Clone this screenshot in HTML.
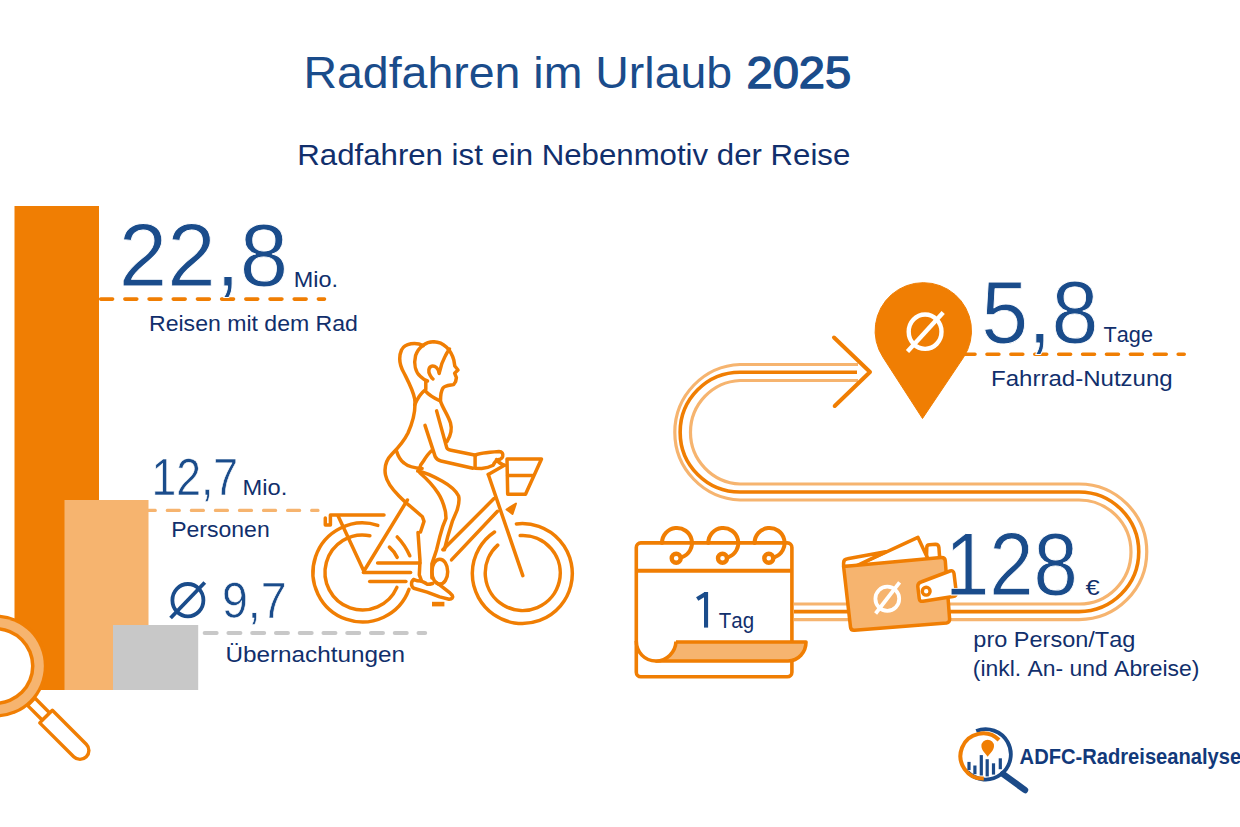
<!DOCTYPE html>
<html><head><meta charset="utf-8"><title>Radfahren im Urlaub 2025</title>
<style>
html,body{margin:0;padding:0;background:#fff;}
body{width:1240px;height:827px;overflow:hidden;position:relative;}
svg{position:absolute;left:0;top:0;display:block;}
text{font-family:"Liberation Sans",sans-serif;font-kerning:none;}
</style></head><body>
<svg width="1240" height="827" viewBox="0 0 1240 827">
<line x1="76.5" y1="299.1" x2="324.5" y2="299.1" stroke="#f07e03" stroke-width="3.6" stroke-linecap="round" stroke-dasharray="11.9 12.29"/>
<line x1="143.3" y1="510.4" x2="317.9" y2="510.4" stroke="#f6b46f" stroke-width="3.4" stroke-linecap="round" stroke-dasharray="11.9 12.16"/>
<line x1="180.9" y1="632.9" x2="425.2" y2="632.9" stroke="#c8c8c8" stroke-width="4.0" stroke-linecap="round" stroke-dasharray="12.0 11.76"/>
<line x1="963.1" y1="354.2" x2="1184.2" y2="354.2" stroke="#f07e03" stroke-width="3.6" stroke-linecap="round" stroke-dasharray="11.9 12.0"/>
<rect x="14.5" y="206" width="84.5" height="484" fill="#f07e03"/>
<rect x="64.5" y="500" width="84" height="190" fill="#f6b46f"/>
<rect x="113" y="625" width="85.2" height="65" fill="#c8c8c8"/>
<circle cx="-4.5" cy="666" r="51.5" fill="#f07e03"/>
<circle cx="-4.5" cy="666" r="48.3" fill="#f6b46f"/>
<circle cx="-4.5" cy="666" r="39" fill="#f07e03"/>
<circle cx="-4.5" cy="666" r="35.5" fill="#fff"/>
<g transform="translate(-4.5,666) rotate(45)" fill="#fff" stroke="#f07e03" stroke-width="3.4" stroke-linejoin="round"><rect x="50.5" y="-5.2" width="21" height="10.4"/><path d="M71.5,-8.9 H119.5 A8.9,8.9 0 0 1 119.5,8.9 H71.5 Z"/></g>
<path d="M858,364.5 H740 A67.8,67.8 0 0 0 740,500 H1079 A52,52 0 0 1 1079,604 H794" fill="none" stroke="#f6b46f" stroke-width="3.2"/>
<path d="M857,372.3 H740 A59.8,59.8 0 0 0 740,492 H1079 A59.8,59.8 0 0 1 1079,611.6 H794" fill="none" stroke="#f07e03" stroke-width="3.6"/>
<path d="M858,380.5 H740 A51.8,51.8 0 0 0 740,484 H1079 A67.8,67.8 0 0 1 1079,619.6 H794" fill="none" stroke="#f6b46f" stroke-width="3.2"/>
<polyline points="834,337.5 870,372 834.7,406" fill="none" stroke="#f07e03" stroke-width="4" stroke-linecap="round" stroke-linejoin="round"/>
<path d="M922.5,418.5 L883.0,357.3 A48.2,48.2 0 1 1 963.6,357.3 Z" fill="#f07e03" stroke="#f07e03" stroke-width="1" stroke-linejoin="round"/>
<ellipse cx="925.1" cy="331.7" rx="16.4" ry="17.2" fill="none" stroke="#fff" stroke-width="4.4"/>
<line x1="907.5" y1="351.5" x2="943.2" y2="312.5" stroke="#fff" stroke-width="4.4" stroke-linecap="butt"/>
<ellipse cx="187.9" cy="600.2" rx="15.5" ry="16.2" fill="none" stroke="#1a4c8b" stroke-width="3.8"/>
<line x1="170.6" y1="618.0" x2="204.8" y2="582.5" stroke="#1a4c8b" stroke-width="3.8" stroke-linecap="butt"/>
<rect x="636.3" y="542.9" width="155.6" height="133.8" rx="4.5" fill="#fff" stroke="#f07e03" stroke-width="3.6"/>
<line x1="636.3" y1="570.8" x2="791.9" y2="570.8" stroke="#f07e03" stroke-width="4"/>
<path d="M676,642 H806 C806,652 798.5,661 788,661 H655.5" fill="#f6b46f" stroke="#f07e03" stroke-width="3.6" stroke-linejoin="round"/>
<path d="M636.3,641 C636.3,652 644.5,661 656,661 C667,661 675.5,652 676,641.5" fill="#fff" stroke="#f07e03" stroke-width="3.6"/>
<path d="M662,542.9 A15,15 0 1 1 682.1,557.1" fill="none" stroke="#f07e03" stroke-width="4" stroke-linecap="round"/>
<circle cx="676.2" cy="558.2" r="4.5" fill="#fff" stroke="#f07e03" stroke-width="4.4"/>
<path d="M708.3,542.9 A15,15 0 1 1 728.4,557.1" fill="none" stroke="#f07e03" stroke-width="4" stroke-linecap="round"/>
<circle cx="722.5" cy="558.2" r="4.5" fill="#fff" stroke="#f07e03" stroke-width="4.4"/>
<path d="M754.6,542.9 A15,15 0 1 1 774.7,557.1" fill="none" stroke="#f07e03" stroke-width="4" stroke-linecap="round"/>
<circle cx="768.8000000000001" cy="558.2" r="4.5" fill="#fff" stroke="#f07e03" stroke-width="4.4"/>
<line x1="706.05" y1="592" x2="706.05" y2="627.6" stroke="#1a4c8b" stroke-width="4.1"/>
<line x1="705.5" y1="594" x2="697.2" y2="599" stroke="#1a4c8b" stroke-width="4.3" stroke-linecap="butt"/>
<g stroke="#f07e03" stroke-width="3.5" stroke-linejoin="round">
<path d="M926.5,557 L926.8,547 Q927,545 929.5,544.8 L935.5,544.3 Q938.6,544.3 938.9,547.5 L939.6,557" fill="#fff"/>
<path d="M855,566.5 L917.9,537.3 L928,559" fill="#fff"/>
<path d="M843.6,566.5 L843.6,563 Q843.6,559.3 847.5,558.8 L885.6,551.8 L855,566.5 Z" fill="#fff"/>
<path d="M843.6,566.5 L941,557.6 Q945,557.3 945.3,561 L949.6,619 Q949.8,622.5 946.5,623 L854.5,630.3 Q850.8,630.6 850.5,627 Z" fill="#f6b46f"/>
<path d="M921,582 L950,571 Q953.5,570 954,573.5 L956.3,592.5 Q956.5,596 953,596.4 L923,601.3 Q919.5,601.8 919.2,598.3 L917.8,586.5 Q917.6,583.2 921,582 Z" fill="#fff"/>
<circle cx="926.2" cy="591.2" r="3.9" fill="#fff" stroke-width="3.4"/>
</g>
<ellipse cx="887.3" cy="598.8" rx="11.9" ry="12.1" fill="none" stroke="#fff" stroke-width="3.8"/>
<line x1="875.6" y1="613.5" x2="899.6" y2="582.3" stroke="#fff" stroke-width="3.8" stroke-linecap="butt"/>
<g fill="none" stroke="#f07e03" stroke-width="3.5" stroke-linecap="round" stroke-linejoin="round">
<path d="M377.8,525.4 A49.5,49.5 0 1 0 409.0,589.4"/>
<path d="M369.9,535.7 A37.5,37.5 0 1 0 396.9,587.4"/>
<path d="M516.4,523.9 A50,50 0 1 1 494.5,532.0"/>
<path d="M520.2,535.6 A37.5,37.5 0 1 1 497.7,545.1"/>
<path d="M384,515 H330.4 V525 H325.3 V518"/>
<path d="M338,515.7 L364,571.5"/>
<path d="M407.4,500 L364,571"/>
<path d="M377.6,563 H420"/>
<path d="M363.4,572.6 H410.6"/>
<path d="M369.7,581.6 H405.9"/>
<path d="M389.4,547.1 Q394,551 397.2,557.4"/>
<path d="M397.2,536.9 Q405,545 409.8,555.8"/>
<path d="M442.9,549.7 L494,498.6"/>
<path d="M451.5,559.9 L497.5,511.3"/>
<path d="M488.3,474.5 L522.8,575.6"/>
<path d="M488.3,474.5 L504.4,465.3"/>
<path d="M507,459 H541.5 L525.5,494.2 H507.7 Z"/>
<path d="M507.7,475.5 H532.5"/>
<path d="M423.2,345.6 C416,342 405,343 401.5,350 C398.5,357 400,366 404,373 C408,381 413,390 414.7,399 C416,410 412,424 408,433 C404,441 399,447 392,454 C386,460 384,467 385.5,475 C387,483 393,490 399,496 C403,500 407,504 410,506 L422.4,516.7 L424,521.4 L420.5,532"/>
<path d="M433.8,341.7 C426,341.5 418.5,347 415.6,355.5 C413.5,364 415.5,372 420.5,376.5 C423,379 426,380.6 427.5,381"/>
<path d="M433.8,341.7 C444,342 451,350 453.8,360 L454.8,366 L458,370 L454.6,373.2 L456.4,377.6 L455.6,381.6 L453.6,384.6 C449,385.4 445,385.4 443,388 C441,391 440.5,396 440.5,401 C442,407 448,415 450.5,423 C452.5,430 450.5,436 447,441.5"/>
<path d="M439.2,373.4 C438.5,368 435,365.5 431.5,366.2 C428.5,367 428,372 430,375 C431,377 432,378.5 433,379"/>
<path d="M439.4,372.5 C440.5,367 442.5,361 445,356.5 C446.5,353.5 448,351 449.5,349"/>
<path d="M425.8,380.6 L425.8,389.3 C421,393 417.5,398 414.7,404.8"/>
<path d="M425.8,391.3 C428,394 433,397.5 440.3,401"/>
<path d="M436.6,410.9 L446.8,447.9 C447.5,449.5 449,450 451.1,450.3 L475.8,455.2"/>
<path d="M425,425.4 L435.2,456.6 C436.5,459 438.5,460.5 441,461 L472.9,468.2"/>
<path d="M475.1,455.2 C478,453.5 485,452.5 499,451.5 C502,451.5 503.5,454 502.7,456.5 C502,458.5 500,459.5 498,459.8 C495,461 494,463 493.2,465.3 C490,467 486,468 481.6,468.4 L475.1,468.2 Z"/>
<path d="M496.5,459.5 C498,462 501,464 504.4,465.3"/>
<path d="M396.7,451.5 C398,456 400,460 404,463 C408,466.5 413,468 422.1,468.5"/>
<path d="M419.2,469.7 C420,466 421.5,463 423.5,461 C426,457 429,453 431.5,450.8"/>
<path d="M417.7,471 C424,472 433,476 442.4,481.3 C449,485 455,489 458.6,496 C460,502 458,507 457,510.4 L452.3,521.4 L447.6,537.1 L444.4,549.7"/>
<path d="M420,473 C427,479 434,487 438,493 C442,499 444,505 445.5,512 L446,518.3 L442.9,526.1 L439.7,537.1 L436.6,549.7 L431.9,563.9 L431.9,578"/>
<path d="M418,532.4 L420,560.7 L419.3,574.9 L421.6,581.1"/>
<path d="M413.8,579.6 C411,581 410.5,586 413.8,588.2 L427.1,592.1 L439.7,596.9 L449.1,599.2 C452,599 453.5,597.5 452.3,595.5 L449.9,592.9 L442.9,587.4 L436.6,582.7"/>
<path d="M413.8,579.6 C416,580.5 418,581 420.9,581.1 C424,582 427,584 427.1,584.3 C429,584.5 431,584 432.6,583.5"/>
<ellipse cx="439.8" cy="571.7" rx="7.9" ry="12.4"/>
</g>
<rect x="432" y="601.8" width="12.4" height="4.6" fill="#f07e03"/>
<path d="M506.5,509.5 L516,503.5 L512.5,514 Z" fill="#f07e03" stroke="#f07e03" stroke-width="2" stroke-linejoin="round"/>
<path d="M976.2,731.0 A25.2,25.2 0 1 1 967.5,771.9" fill="none" stroke="#1b4a88" stroke-width="3.8"/>
<path d="M999.0,740.0 A22.6,22.6 0 1 0 983.8,778.6" fill="none" stroke="#f07e03" stroke-width="4"/>
<line x1="1003" y1="774" x2="1025" y2="790" stroke="#1b4a88" stroke-width="6.4" stroke-linecap="round"/>
<line x1="969" y1="761.9" x2="969" y2="770.1" stroke="#1b4a88" stroke-width="3.2"/>
<line x1="974.9" y1="765.5" x2="974.9" y2="774.2" stroke="#1b4a88" stroke-width="3.2"/>
<line x1="981.3" y1="755.1" x2="981.3" y2="775.5" stroke="#1b4a88" stroke-width="3.2"/>
<line x1="987.2" y1="759.2" x2="987.2" y2="776.4" stroke="#1b4a88" stroke-width="3.2"/>
<line x1="993.5" y1="763.3" x2="993.5" y2="774.6" stroke="#1b4a88" stroke-width="3.2"/>
<line x1="1000.3" y1="758.3" x2="1000.3" y2="769.2" stroke="#1b4a88" stroke-width="3.2"/>
<path d="M987.7,756.8 C985.5,753 981.4,750.5 981.4,746 A6.3,6.3 0 1 1 994,746 C994,750.5 989.9,753 987.7,756.8 Z" fill="#f07e03"/>
<text x="303.49" y="87.80" font-size="44.7" fill="#1a4c8b" textLength="428.66" lengthAdjust="spacingAndGlyphs">Radfahren im Urlaub</text>
<text x="746.54" y="87.90" font-size="44.0" stroke="#1a4c8b" stroke-width="1.4" stroke-linejoin="round" fill="#1a4c8b" textLength="104.54" lengthAdjust="spacingAndGlyphs">2025</text>
<text x="297.34" y="164.70" font-size="29.8" fill="#112f6c" textLength="552.94" lengthAdjust="spacingAndGlyphs">Radfahren ist ein Nebenmotiv der Reise</text>
<text x="118.87" y="286.40" font-size="89.4" stroke="#fff" stroke-width="0.9" stroke-linejoin="round" fill="#1a4c8b" textLength="169.36" lengthAdjust="spacingAndGlyphs">22,8</text>
<text x="293.78" y="286.70" font-size="22.7" fill="#112f6c" textLength="44.26" lengthAdjust="spacingAndGlyphs">Mio.</text>
<text x="149.01" y="330.70" font-size="22.7" fill="#112f6c" textLength="208.88" lengthAdjust="spacingAndGlyphs">Reisen mit dem Rad</text>
<text x="151.41" y="495.00" font-size="52" stroke="#fff" stroke-width="0.6" stroke-linejoin="round" fill="#1a4c8b" textLength="86.74" lengthAdjust="spacingAndGlyphs">12,7</text>
<text x="242.55" y="495.00" font-size="22.7" fill="#112f6c" textLength="44.81" lengthAdjust="spacingAndGlyphs">Mio.</text>
<text x="171.21" y="536.80" font-size="22.7" fill="#112f6c" textLength="98.48" lengthAdjust="spacingAndGlyphs">Personen</text>
<text x="222.02" y="617.90" font-size="50" stroke="#fff" stroke-width="0.6" stroke-linejoin="round" fill="#1a4c8b" textLength="64.62" lengthAdjust="spacingAndGlyphs">9,7</text>
<text x="225.43" y="661.60" font-size="22.7" fill="#112f6c" textLength="179.55" lengthAdjust="spacingAndGlyphs">Übernachtungen</text>
<text x="981.17" y="342.60" font-size="89" stroke="#fff" stroke-width="0.9" stroke-linejoin="round" fill="#1a4c8b" textLength="117.35" lengthAdjust="spacingAndGlyphs">5,8</text>
<text x="1103.61" y="341.60" font-size="22.7" fill="#112f6c" textLength="49.35" lengthAdjust="spacingAndGlyphs">Tage</text>
<text x="991.03" y="385.60" font-size="22.473" fill="#112f6c" textLength="181.72" lengthAdjust="spacingAndGlyphs">Fahrrad-Nutzung</text>
<text x="718.84" y="627.60" font-size="22.7" fill="#112f6c" textLength="35.28" lengthAdjust="spacingAndGlyphs">Tag</text>
<text x="944.98" y="595.30" font-size="89" stroke="#fff" stroke-width="0.9" stroke-linejoin="round" fill="#1a4c8b" textLength="132.93" lengthAdjust="spacingAndGlyphs">128</text>
<text x="1085.40" y="595.30" font-size="22" fill="#112f6c" textLength="14.16" lengthAdjust="spacingAndGlyphs">€</text>
<text x="973.39" y="646.90" font-size="21.8" fill="#112f6c" textLength="161.93" lengthAdjust="spacingAndGlyphs">pro Person/Tag</text>
<text x="972.78" y="675.80" font-size="21.8" fill="#112f6c" textLength="226.64" lengthAdjust="spacingAndGlyphs">(inkl. An- und Abreise)</text>
<text x="1019.60" y="763.80" font-size="21.4" font-weight="bold" fill="#12397a" textLength="221.59" lengthAdjust="spacingAndGlyphs">ADFC-Radreiseanalyse</text>
</svg>
</body></html>
